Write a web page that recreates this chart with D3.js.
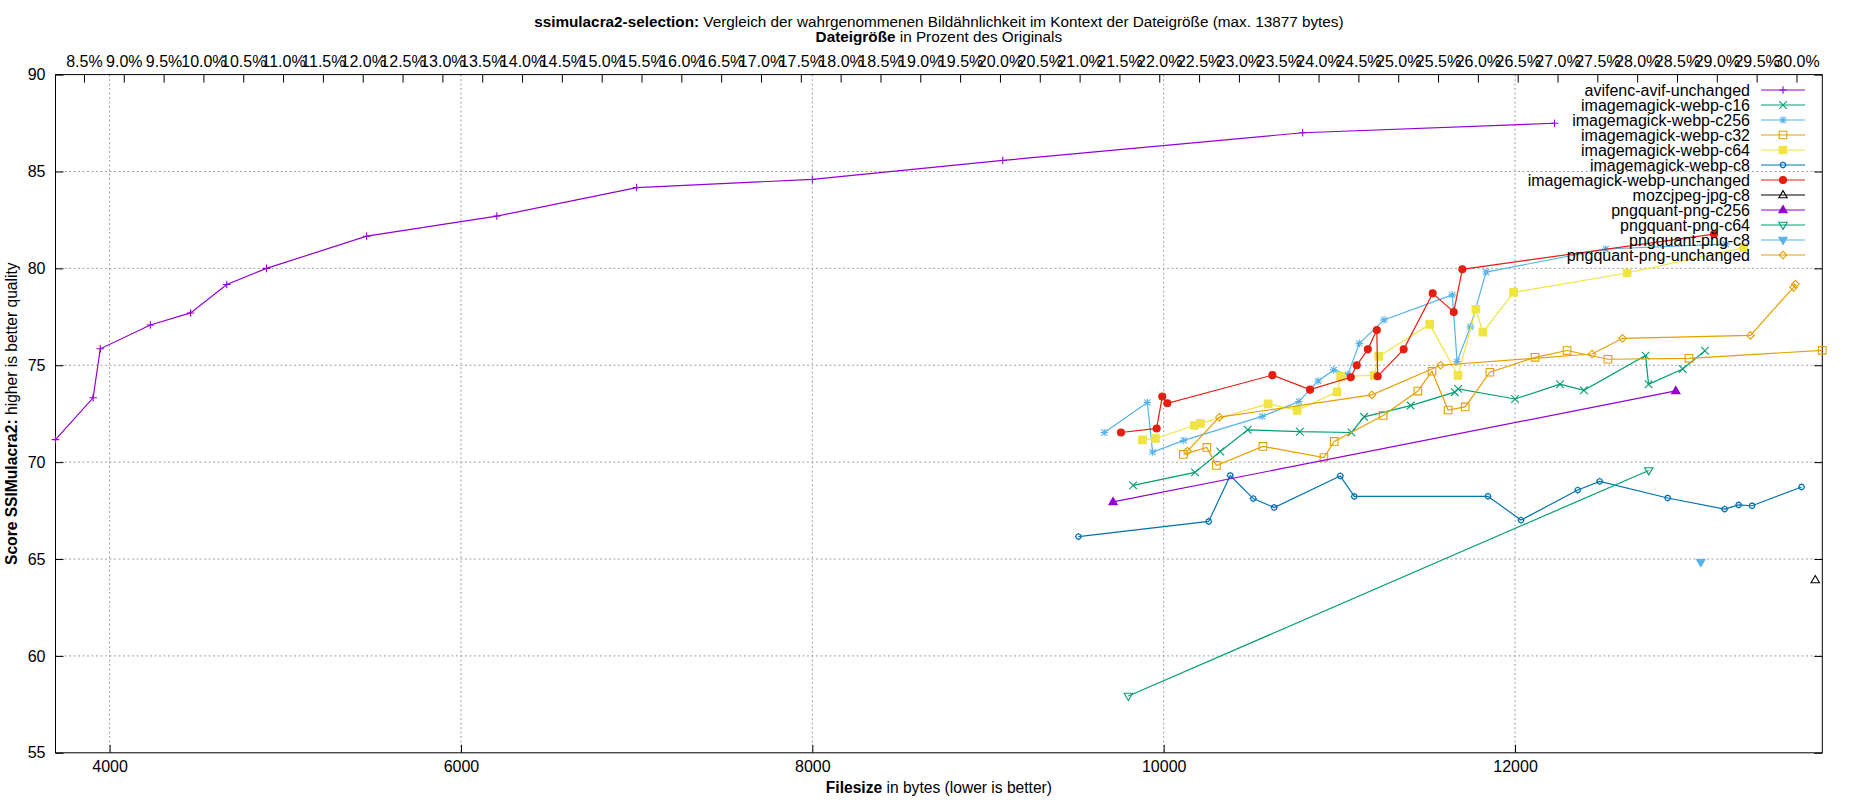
<!DOCTYPE html>
<html>
<head>
<meta charset="utf-8">
<script src="https://cdn.jsdelivr.net/npm/d3@7"></script>
<style>
    body { margin: 0; background: #fff; }
    svg text { font-family: "Liberation Sans", Arial, sans-serif; }
</style>
</head>
<body>
<div id="chart"></div>
<script>
// Values: [filesize in bytes, SSIMulacra2 score]
const avifencAvifUnchanged = [[3692, 71.16], [3906, 73.32], [3947, 75.85], [4232, 77.08], [4461, 77.70], [4667, 79.17], [4893, 80.00], [5463, 81.66], [6204, 82.70], [7000, 84.17], [8000, 84.59], [9084, 85.57], [10791, 87.00], [12225, 87.49]];
const webpC16 = [[9826, 68.80], [10178, 69.47], [10322, 70.55], [10478, 71.67], [10775, 71.57], [11069, 71.53], [11141, 72.34], [11406, 72.92], [11657, 73.61], [11676, 73.78], [12000, 73.26], [12256, 74.02], [12392, 73.71], [12743, 75.50], [12760, 74.02], [12954, 74.81], [13081, 75.75]];
const webpC256 = [[9662, 71.53], [9907, 73.08], [9937, 70.52], [10114, 71.12], [10561, 72.36], [10770, 73.13], [10879, 74.19], [10968, 74.76], [11048, 74.52], [11114, 76.13], [11254, 77.34], [11643, 78.63], [11670, 75.19], [11746, 76.98], [11835, 79.81], [12516, 81.00], [13200, 81.25]];
const webpC32 = [[10112, 70.40], [10246, 70.76], [10300, 69.83], [10565, 70.81], [10912, 70.24], [10971, 71.07], [11249, 72.41], [11447, 73.67], [11527, 74.69], [11619, 72.69], [11716, 72.85], [11857, 74.64], [12114, 75.41], [12296, 75.76], [12529, 75.31], [12990, 75.36], [13749, 75.77]];
const webpC64 = [[9879, 71.15], [9953, 71.22], [10174, 71.89], [10209, 72.00], [10595, 73.01], [10760, 72.67], [10987, 73.63], [11008, 74.42], [11198, 74.48], [11224, 75.46], [11514, 77.11], [11675, 74.48], [11777, 77.89], [11817, 76.71], [11992, 78.76], [12638, 79.76], [13302, 81.07]];
const webpC8 = [[9515, 66.16], [10256, 66.94], [10379, 69.31], [10510, 68.12], [10629, 67.66], [11005, 69.29], [11085, 68.23], [11846, 68.24], [12034, 67.01], [12357, 68.56], [12482, 69.01], [12869, 68.15], [13193, 67.58], [13273, 67.79], [13349, 67.75], [13631, 68.72]];
const webpUnchanged = [[9757, 71.53], [9960, 71.74], [9992, 73.39], [10021, 73.04], [10619, 74.49], [10833, 73.74], [11065, 74.38], [11099, 75.00], [11162, 75.82], [11213, 76.82], [11218, 74.43], [11366, 75.82], [11531, 78.71], [11651, 77.75], [11700, 79.95], [13133, 81.77]];
const mozcjpegJpgC8 = [[13709, 63.92]];
const pngquantC256 = [[9712, 67.95], [12915, 73.68]];
const pngquantC64 = [[9799, 57.93], [12761, 69.57]];
const pngquantC8 = [[13057, 64.83]];
const pngquantUnchanged = [[10135, 70.57], [10317, 72.32], [11185, 73.47], [11576, 75.00], [12438, 75.58], [12612, 76.39], [13340, 76.54], [13585, 79.02], [13596, 79.19]];

const seriesNames = ["avifenc-avif-unchanged", "imagemagick-webp-c16", "imagemagick-webp-c256", "imagemagick-webp-c32",
    "imagemagick-webp-c64", "imagemagick-webp-c8", "imagemagick-webp-unchanged", "mozcjpeg-jpg-c8",
    "pngquant-png-c256", "pngquant-png-c64", "pngquant-png-c8", "pngquant-png-unchanged"];
const seriesValues = [avifencAvifUnchanged, webpC16, webpC256, webpC32, webpC64, webpC8, webpUnchanged,
    mozcjpegJpgC8, pngquantC256, pngquantC64, pngquantC8, pngquantUnchanged];

const xTicks = [4000, 6000, 8000, 10000, 12000];
const yTicks = [55, 60, 65, 70, 75, 80, 85, 90];
const percentTicks = d3.range(8.5, 30.01, 0.5);
const originalSize = 45340;

// gnuplot default line types
const seriesColors = ["#9400d3", "#009e73", "#56b4e9", "#e69f00", "#f0e442", "#0072b2", "#e51e10", "#000000",
    "#9400d3", "#009e73", "#56b4e9", "#e69f00"];
const seriesMarkers = ["plus", "cross", "star", "square", "squareFilled", "circle", "circleFilled", "triangle",
    "triangleFilled", "triangleDown", "triangleDownFilled", "diamond"];

class SelectionVis {
    constructor(_parentElement) {
        this.parentElement = _parentElement;
        this.initVis();
    }

    initVis() {
        const vis = this;

        vis.margin = { top: 74.6, right: 27.7, bottom: 47.2, left: 55.5 };
        vis.width = 1850 - vis.margin.left - vis.margin.right;
        vis.height = 800 - vis.margin.top - vis.margin.bottom;
        vis.font = "'Liberation Sans', Arial, sans-serif";
        vis.fontSize = 16;

        vis.root = d3.select(`#${vis.parentElement}`)
            .append("svg")
            .attr("width", 1850)
            .attr("height", 800);

        vis.root.append("rect").attr("width", 1850).attr("height", 800).attr("fill", "#fff");

        vis.svg = vis.root.append("g")
            .attr("transform", `translate(${vis.margin.left},${vis.margin.top})`);

        const allPoints = seriesValues.flat();
        vis.xScale = d3.scaleLinear().domain(d3.extent(allPoints, d => d[0])).range([0, vis.width]);
        vis.yScale = d3.scaleLinear().domain([55, 90]).range([vis.height, 0]);
        vis.x2Scale = d3.scaleLinear()
            .domain(vis.xScale.domain().map(v => v / originalSize * 100))
            .range([0, vis.width]);

        vis.drawGrid();
        vis.drawAxes();
        vis.drawLabels();
        vis.updateVis();
        vis.drawLegend();
    }

    drawGrid() {
        const vis = this;
        const grid = vis.svg.append("g").attr("class", "grid")
            .attr("stroke", "#a0a0a0").attr("stroke-width", 1).attr("stroke-dasharray", "2,2.5");

        grid.selectAll(".vgrid").data(xTicks).enter().append("line")
            .attr("x1", d => vis.xScale(d)).attr("x2", d => vis.xScale(d))
            .attr("y1", 0).attr("y2", vis.height);

        grid.selectAll(".hgrid").data(yTicks.slice(1, -1)).enter().append("line")
            .attr("x1", 0).attr("x2", vis.width)
            .attr("y1", d => vis.yScale(d)).attr("y2", d => vis.yScale(d));
    }

    styleAxis(g) {
        const vis = this;
        g.attr("font-family", vis.font).attr("font-size", vis.fontSize);
        g.select(".domain").remove();
        g.selectAll(".tick line").attr("stroke", "#000");
        g.selectAll(".tick text").attr("fill", "#000");
    }

    drawAxes() {
        const vis = this;

        vis.svg.append("g")
            .attr("transform", `translate(0,${vis.height})`)
            .call(d3.axisBottom(vis.xScale).tickValues(xTicks).tickSizeInner(-8).tickSizeOuter(0).tickPadding(8)
                .tickFormat(d3.format("d")))
            .call(g => vis.styleAxis(g));

        vis.svg.append("g")
            .call(d3.axisTop(vis.x2Scale).tickValues(percentTicks).tickSizeInner(-8).tickSizeOuter(0).tickPadding(8)
                .tickFormat(d => d3.format(".1f")(d) + "%"))
            .call(g => vis.styleAxis(g));

        vis.svg.append("g")
            .call(d3.axisLeft(vis.yScale).tickValues(yTicks).tickSizeInner(-8).tickSizeOuter(0).tickPadding(10))
            .call(g => vis.styleAxis(g));

        vis.svg.append("g")
            .attr("transform", `translate(${vis.width},0)`)
            .call(d3.axisRight(vis.yScale).tickValues(yTicks).tickSizeInner(-8).tickSizeOuter(0).tickFormat(""))
            .call(g => vis.styleAxis(g));

        vis.svg.append("rect")
            .attr("width", vis.width).attr("height", vis.height)
            .attr("fill", "none").attr("stroke", "#000").attr("stroke-width", 1);
    }

    drawLabels() {
        const vis = this;
        const cx = vis.margin.left + vis.width / 2;

        const t1 = vis.root.append("text").attr("x", cx).attr("y", 27)
            .attr("text-anchor", "middle").attr("font-size", 15.3);
        t1.append("tspan").attr("font-weight", "bold").text("ssimulacra2-selection:");
        t1.append("tspan").text(" Vergleich der wahrgenommenen Bildähnlichkeit im Kontext der Dateigröße (max. 13877 bytes)");

        const t2 = vis.root.append("text").attr("x", cx).attr("y", 41.5)
            .attr("text-anchor", "middle").attr("font-size", 15.3);
        t2.append("tspan").attr("font-weight", "bold").text("Dateigröße");
        t2.append("tspan").text(" in Prozent des Originals");

        const xl = vis.root.append("text").attr("x", cx).attr("y", 793)
            .attr("text-anchor", "middle").attr("font-size", 15.6);
        xl.append("tspan").attr("font-weight", "bold").text("Filesize");
        xl.append("tspan").text(" in bytes (lower is better)");

        const yl = vis.root.append("text")
            .attr("transform", `translate(17,${vis.margin.top + vis.height / 2}) rotate(-90)`)
            .attr("text-anchor", "middle").attr("font-size", 15.6);
        yl.append("tspan").attr("font-weight", "bold").text("Score SSIMulacra2:");
        yl.append("tspan").text(" higher is better quality");
    }

    drawMarker(g, type, color) {
        const h = 3.8;
        const path = {
            plus: `M${-h},0H${h}M0,${-h}V${h}`,
            cross: `M${-h},${-h}L${h},${h}M${-h},${h}L${h},${-h}`,
            star: `M${-h},0H${h}M0,${-h}V${h}M${-h * 0.8},${-h * 0.8}L${h * 0.8},${h * 0.8}M${-h * 0.8},${h * 0.8}L${h * 0.8},${-h * 0.8}`,
            square: `M${-h},${-h}H${h}V${h}H${-h}Z`,
            squareFilled: `M${-h},${-h}H${h}V${h}H${-h}Z`,
            circle: `M-2.6,0A2.6,2.6 0 1,0 2.6,0A2.6,2.6 0 1,0 -2.6,0M0,-3.6V-2.6M0,2.6V3.6M-3.6,0H-2.6M2.6,0H3.6`,
            circleFilled: `M-3.5,0A3.5,3.5 0 1,0 3.5,0A3.5,3.5 0 1,0 -3.5,0`,
            triangle: `M0,-4.4L4.2,2.8H-4.2Z`,
            triangleFilled: `M0,-4.4L4.2,2.8H-4.2Z`,
            triangleDown: `M0,4.4L4.2,-2.8H-4.2Z`,
            triangleDownFilled: `M0,4.4L4.2,-2.8H-4.2Z`,
            diamond: `M0,${-h}L${h},0L0,${h}L${-h},0Z`
        }[type];
        const filled = type.endsWith("Filled");
        g.append("path")
            .attr("d", path)
            .attr("fill", filled ? color : "none")
            .attr("stroke", color)
            .attr("stroke-width", 1.1);
    }

    updateVis() {
        const vis = this;
        const line = d3.line().x(d => vis.xScale(d[0])).y(d => vis.yScale(d[1]));

        seriesValues.forEach((values, i) => {
            const g = vis.svg.append("g").attr("class", "series");
            g.append("path")
                .datum(values)
                .attr("d", line)
                .attr("fill", "none")
                .attr("stroke", seriesColors[i])
                .attr("stroke-width", 1.2);

            g.selectAll(".pt").data(values).enter().append("g")
                .attr("transform", d => `translate(${vis.xScale(d[0])},${vis.yScale(d[1])})`)
                .each(function () { vis.drawMarker(d3.select(this), seriesMarkers[i], seriesColors[i]); });
        });
    }

    drawLegend() {
        const vis = this;
        const legend = vis.root.append("g").attr("class", "legend");
        const textRight = 1750, lineStart = 1761, lineEnd = 1805, top = 90, step = 15;

        seriesNames.forEach((name, i) => {
            const y = top + i * step;
            legend.append("text")
                .attr("x", textRight).attr("y", y).attr("dy", "0.35em")
                .attr("text-anchor", "end").attr("font-size", vis.fontSize)
                .text(name);
            legend.append("line")
                .attr("x1", lineStart).attr("x2", lineEnd).attr("y1", y).attr("y2", y)
                .attr("stroke", seriesColors[i]).attr("stroke-width", 1.2);
            const m = legend.append("g").attr("transform", `translate(${(lineStart + lineEnd) / 2},${y})`);
            vis.drawMarker(m, seriesMarkers[i], seriesColors[i]);
        });
    }
}

new SelectionVis("chart");
</script>
</body>
</html>
